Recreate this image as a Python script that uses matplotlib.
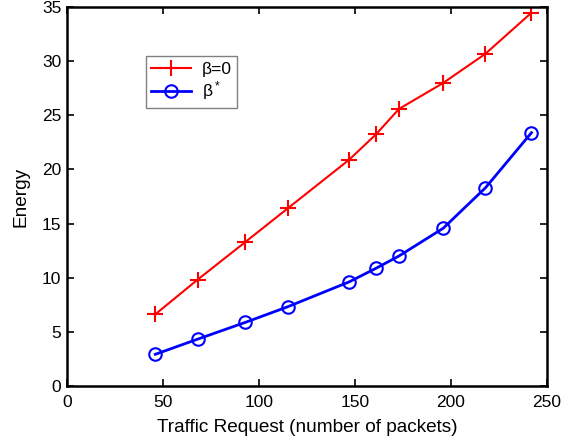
import matplotlib
matplotlib.use("Agg")
import matplotlib.pyplot as plt

plt.rcParams['font.family'] = ['Liberation Sans', 'DejaVu Sans']
plt.rcParams['mathtext.fontset'] = 'custom'
plt.rcParams['mathtext.rm'] = 'Liberation Sans'
plt.rcParams['mathtext.it'] = 'Liberation Sans'

traffic = [46, 68, 93, 115, 147, 161, 173, 196, 218, 242]
energy_beta0 = [6.6, 9.8, 13.3, 16.4, 20.9, 23.25, 25.6, 28.0, 30.7, 34.5]
energy_beta_star = [2.9, 4.3, 5.86, 7.3, 9.6, 10.86, 12.0, 14.56, 18.3, 23.4]
labels = ['β=0', 'β$^*$']
xticks = [0, 50, 100, 150, 200, 250]
yticks = [0, 5, 10, 15, 20, 25, 30, 35]

fig = plt.figure(figsize=(5.75, 4.45), dpi=100)
ax = fig.add_axes([0.1165, 0.1333, 0.951 - 0.1165, 0.9836 - 0.1333])

ax.plot(traffic, energy_beta0, color='#ff0000', lw=1.5, marker='+', ms=11, mew=1.5, label=labels[0])
ax.plot(traffic, energy_beta_star, color='#0000ff', lw=2, marker='o', ms=9, mew=1.5,
        mfc='none', label=labels[1])

ax.set_xlim(0, 250)
ax.set_ylim(0, 35)
ax.set_xticks(xticks)
ax.set_yticks(yticks)
ax.tick_params(direction='in', top=True, right=True, length=5, width=1.2, labelsize=12.5)
ax.tick_params(axis='x', pad=6.5)
ax.tick_params(axis='y', pad=4)
for s in ax.spines.values():
    s.set_linewidth(1.8)
ax.set_xlabel('Traffic Request (number of packets)', fontsize=13.7, labelpad=7)
ax.set_ylabel('Energy', fontsize=13.7, labelpad=9)

leg = ax.legend(loc='upper left', bbox_to_anchor=(0.165, 0.87), fontsize=12.5, fancybox=False,
                framealpha=1, edgecolor='#808080', handlelength=2.3, borderpad=0.3,
                labelspacing=0.15, handletextpad=0.6, borderaxespad=0)
leg.get_frame().set_linewidth(1.0)

fig.savefig('out.png', dpi=100)
